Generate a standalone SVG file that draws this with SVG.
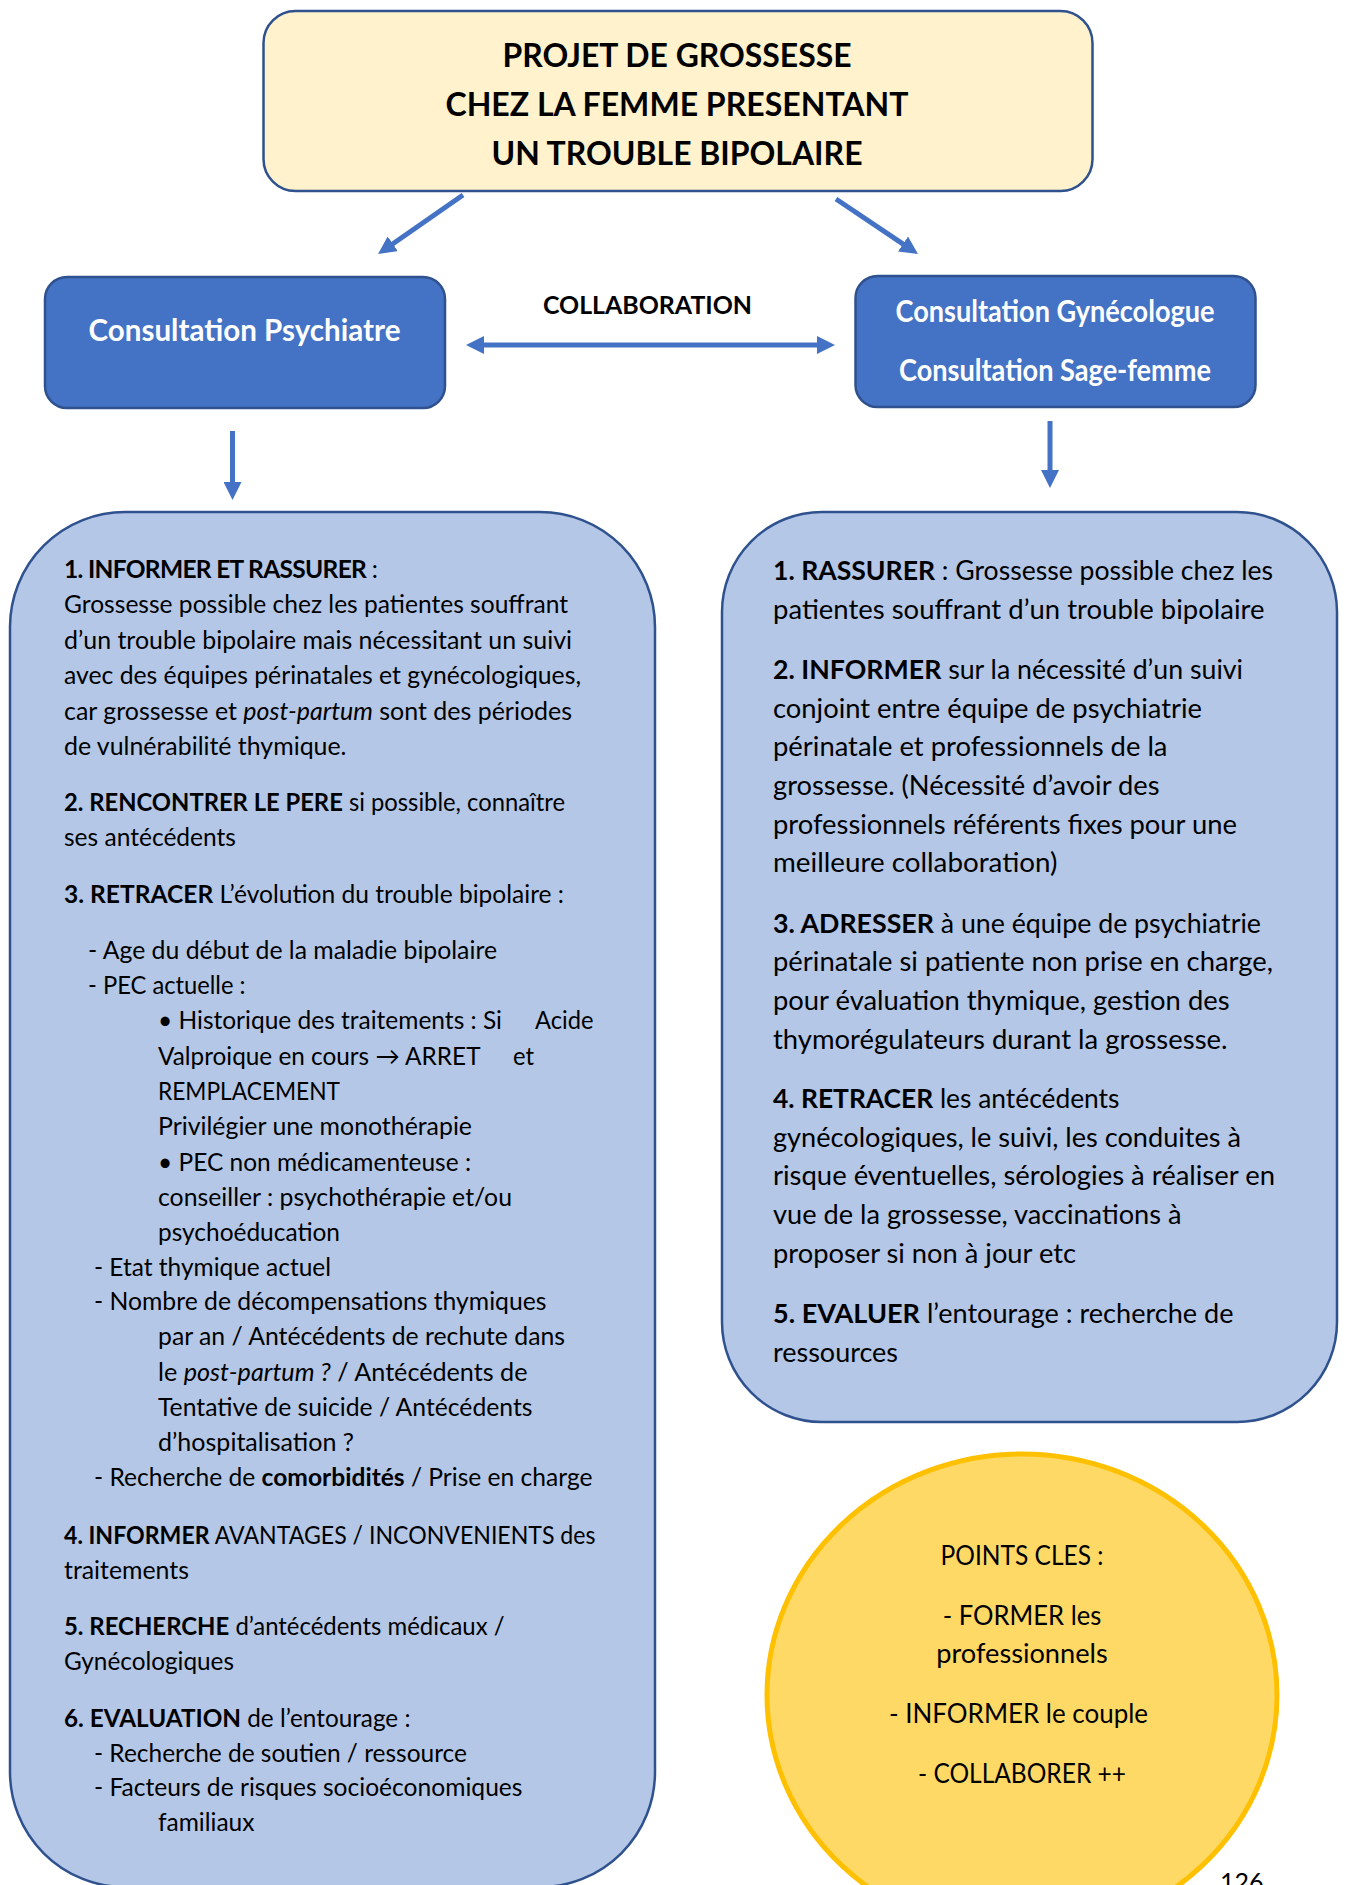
<svg xmlns="http://www.w3.org/2000/svg" width="1347" height="1885" viewBox="0 0 1347 1885">
<defs>
<style>
text{font-family:Lato,"Liberation Sans",sans-serif;fill:#000}
.t{font-size:32px;font-weight:bold;text-anchor:middle}
.hb{font-size:29.5px;font-weight:bold;fill:#fff;text-anchor:middle}
.co{font-size:25px;font-weight:bold;text-anchor:middle}
.l{font-size:24.5px}
.r{font-size:27px}
.c{font-size:26px;text-anchor:middle}
.pg{font-size:25px}
.b{font-weight:bold}
.i{font-style:italic}
.arw{stroke:#4472C4;stroke-width:5;fill:none}
</style>
<marker id="ah" viewBox="0 0 18 18" markerUnits="userSpaceOnUse" markerWidth="18" markerHeight="18" refX="6" refY="9" orient="auto-start-reverse">
<path d="M0,0 L18,9 L0,18 z" fill="#4472C4"/>
</marker>
</defs>
<rect width="1347" height="1885" fill="#fff"/>

<g id="title">
<rect x="263.5" y="11" width="829" height="180" rx="32" fill="#FFF2CC" stroke="#2F528F" stroke-width="2.5"/>
<text class="t" x="677" y="67" textLength="349" lengthAdjust="spacingAndGlyphs">PROJET DE GROSSESSE</text>
<text class="t" x="677" y="116" textLength="463" lengthAdjust="spacingAndGlyphs">CHEZ LA FEMME PRESENTANT</text>
<text class="t" x="677" y="165" textLength="371" lengthAdjust="spacingAndGlyphs">UN TROUBLE BIPOLAIRE</text>
</g>

<g id="psychiatre">
<rect x="45" y="277" width="400" height="131" rx="22" fill="#4472C4" stroke="#2F528F" stroke-width="2.5"/>
<text class="hb" x="244.5" y="341" textLength="312" lengthAdjust="spacingAndGlyphs">Consultation Psychiatre</text>
</g>

<g id="gynecologue">
<rect x="855.5" y="276" width="400" height="131" rx="22" fill="#4472C4" stroke="#2F528F" stroke-width="2.5"/>
<text class="hb" x="1055" y="322" textLength="319" lengthAdjust="spacingAndGlyphs">Consultation Gynécologue</text>
<text class="hb" x="1055" y="381" textLength="312" lengthAdjust="spacingAndGlyphs">Consultation Sage-femme</text>
</g>

<g id="collab-label">
<text class="co" x="647.5" y="314" textLength="209" lengthAdjust="spacingAndGlyphs">COLLABORATION</text>
</g>

<g id="connectors">
<line class="arw" x1="463" y1="195" x2="387.9" y2="247.2" marker-end="url(#ah)"/>
<line class="arw" x1="836" y1="199" x2="908" y2="247.3" marker-end="url(#ah)"/>
<line class="arw" x1="478" y1="345" x2="823" y2="345" marker-start="url(#ah)" marker-end="url(#ah)"/>
<line class="arw" x1="232.5" y1="431" x2="232.5" y2="488" marker-end="url(#ah)"/>
<line class="arw" x1="1050" y1="421" x2="1050" y2="476" marker-end="url(#ah)"/>
</g>

<g id="psy-details">
<rect x="10" y="512" width="645" height="1375" rx="115" fill="#B4C7E7" stroke="#2F528F" stroke-width="2.5"/>
<text class="l" x="64" y="578" style="letter-spacing:-0.68px"><tspan class="b">1. INFORMER ET RASSURER</tspan> :</text>
<text class="l" x="64" y="613" textLength="504" lengthAdjust="spacingAndGlyphs">Grossesse possible chez les patientes souffrant</text>
<text class="l" x="64" y="649" textLength="508" lengthAdjust="spacingAndGlyphs">d’un trouble bipolaire mais nécessitant un suivi</text>
<text class="l" x="64" y="684" textLength="517" lengthAdjust="spacingAndGlyphs">avec des équipes périnatales et gynécologiques,</text>
<text class="l" x="64" y="720" textLength="508" lengthAdjust="spacingAndGlyphs">car grossesse et <tspan class="i">post-partum</tspan> sont des périodes</text>
<text class="l" x="64" y="755" textLength="282.5" lengthAdjust="spacingAndGlyphs">de vulnérabilité thymique.</text>
<text class="l" x="64" y="811" textLength="501" lengthAdjust="spacingAndGlyphs"><tspan class="b">2. RENCONTRER LE PERE</tspan> si possible, connaître</text>
<text class="l" x="64" y="846" textLength="172" lengthAdjust="spacingAndGlyphs">ses antécédents</text>
<text class="l" x="64" y="903" textLength="500" lengthAdjust="spacingAndGlyphs"><tspan class="b">3. RETRACER</tspan> L’évolution du trouble bipolaire :</text>
<text class="l" x="88" y="959" textLength="409" lengthAdjust="spacingAndGlyphs">- Age du début de la maladie bipolaire</text>
<text class="l" x="88" y="994" textLength="157.5" lengthAdjust="spacingAndGlyphs">- PEC actuelle :</text>
<text class="l" x="158" y="1029" textLength="344" lengthAdjust="spacingAndGlyphs">• Historique des traitements : Si</text>
<text class="l" x="535" y="1029" textLength="58.5" lengthAdjust="spacingAndGlyphs">Acide</text>
<text class="l" x="158" y="1065" textLength="322.5" lengthAdjust="spacingAndGlyphs">Valproique en cours → ARRET</text>
<text class="l" x="513" y="1065" textLength="21" lengthAdjust="spacingAndGlyphs">et</text>
<text class="l" x="158" y="1100" textLength="182" lengthAdjust="spacingAndGlyphs">REMPLACEMENT</text>
<text class="l" x="158" y="1135" textLength="314" lengthAdjust="spacingAndGlyphs">Privilégier une monothérapie</text>
<text class="l" x="158" y="1171" textLength="313" lengthAdjust="spacingAndGlyphs">• PEC non médicamenteuse :</text>
<text class="l" x="158" y="1206" textLength="354" lengthAdjust="spacingAndGlyphs">conseiller : psychothérapie et/ou</text>
<text class="l" x="158" y="1241" textLength="182" lengthAdjust="spacingAndGlyphs">psychoéducation</text>
<text class="l" x="94" y="1276" textLength="237" lengthAdjust="spacingAndGlyphs">- Etat thymique actuel</text>
<text class="l" x="94" y="1310" textLength="452.5" lengthAdjust="spacingAndGlyphs">- Nombre de décompensations thymiques</text>
<text class="l" x="158" y="1345" textLength="407" lengthAdjust="spacingAndGlyphs">par an / Antécédents de rechute dans</text>
<text class="l" x="158" y="1381" textLength="369.5" lengthAdjust="spacingAndGlyphs">le <tspan class="i">post-partum ?</tspan> / Antécédents de</text>
<text class="l" x="158" y="1416" textLength="374.5" lengthAdjust="spacingAndGlyphs">Tentative de suicide / Antécédents</text>
<text class="l" x="158" y="1451" textLength="196" lengthAdjust="spacingAndGlyphs">d’hospitalisation ?</text>
<text class="l" x="94" y="1486" textLength="498.5" lengthAdjust="spacingAndGlyphs">- Recherche de <tspan class="b">comorbidités</tspan> / Prise en charge</text>
<text class="l" x="64" y="1544" textLength="531.5" lengthAdjust="spacingAndGlyphs"><tspan class="b">4. INFORMER</tspan> AVANTAGES / INCONVENIENTS des</text>
<text class="l" x="64" y="1579" textLength="125" lengthAdjust="spacingAndGlyphs">traitements</text>
<text class="l" x="64" y="1635" textLength="440.5" lengthAdjust="spacingAndGlyphs"><tspan class="b">5. RECHERCHE</tspan> d’antécédents médicaux /</text>
<text class="l" x="64" y="1670" textLength="170" lengthAdjust="spacingAndGlyphs">Gynécologiques</text>
<text class="l" x="64" y="1727" textLength="346.5" lengthAdjust="spacingAndGlyphs"><tspan class="b">6. EVALUATION</tspan> de l’entourage :</text>
<text class="l" x="94" y="1762" textLength="373" lengthAdjust="spacingAndGlyphs">- Recherche de soutien / ressource</text>
<text class="l" x="94" y="1796" textLength="428.5" lengthAdjust="spacingAndGlyphs">- Facteurs de risques socioéconomiques</text>
<text class="l" x="158" y="1831" textLength="96.5" lengthAdjust="spacingAndGlyphs">familiaux</text>
</g>

<g id="gyn-details">
<rect x="722" y="512" width="615" height="910" rx="100" fill="#B4C7E7" stroke="#2F528F" stroke-width="2.5"/>
<text class="r" x="773" y="580" textLength="500" lengthAdjust="spacingAndGlyphs"><tspan class="b">1. RASSURER</tspan> : Grossesse possible chez les</text>
<text class="r" x="773" y="619" textLength="491.5" lengthAdjust="spacingAndGlyphs">patientes souffrant d’un trouble bipolaire</text>
<text class="r" x="773" y="679" textLength="470" lengthAdjust="spacingAndGlyphs"><tspan class="b">2. INFORMER</tspan> sur la nécessité d’un suivi</text>
<text class="r" x="773" y="717.5" textLength="429" lengthAdjust="spacingAndGlyphs">conjoint entre équipe de psychiatrie</text>
<text class="r" x="773" y="756" textLength="394.5" lengthAdjust="spacingAndGlyphs">périnatale et professionnels de la</text>
<text class="r" x="773" y="795" textLength="386.5" lengthAdjust="spacingAndGlyphs">grossesse. (Nécessité d’avoir des</text>
<text class="r" x="773" y="833.5" textLength="464" lengthAdjust="spacingAndGlyphs">professionnels référents fixes pour une</text>
<text class="r" x="773" y="872" textLength="284.5" lengthAdjust="spacingAndGlyphs">meilleure collaboration)</text>
<text class="r" x="773" y="932.5" textLength="488" lengthAdjust="spacingAndGlyphs"><tspan class="b">3. ADRESSER</tspan> à une équipe de psychiatrie</text>
<text class="r" x="773" y="971" textLength="500" lengthAdjust="spacingAndGlyphs">périnatale si patiente non prise en charge,</text>
<text class="r" x="773" y="1010" textLength="456.5" lengthAdjust="spacingAndGlyphs">pour évaluation thymique, gestion des</text>
<text class="r" x="773" y="1048.5" textLength="454.5" lengthAdjust="spacingAndGlyphs">thymorégulateurs durant la grossesse.</text>
<text class="r" x="773" y="1108" textLength="346.5" lengthAdjust="spacingAndGlyphs"><tspan class="b">4. RETRACER</tspan> les antécédents</text>
<text class="r" x="773" y="1146.5" textLength="468" lengthAdjust="spacingAndGlyphs">gynécologiques, le suivi, les conduites à</text>
<text class="r" x="773" y="1185" textLength="502" lengthAdjust="spacingAndGlyphs">risque éventuelles, sérologies à réaliser en</text>
<text class="r" x="773" y="1224" textLength="408.5" lengthAdjust="spacingAndGlyphs">vue de la grossesse, vaccinations à</text>
<text class="r" x="773" y="1262.5" textLength="303" lengthAdjust="spacingAndGlyphs">proposer si non à jour etc</text>
<text class="r" x="773" y="1323" textLength="460.5" lengthAdjust="spacingAndGlyphs"><tspan class="b">5. EVALUER</tspan> l’entourage : recherche de</text>
<text class="r" x="773" y="1361.5" textLength="125" lengthAdjust="spacingAndGlyphs">ressources</text>
</g>

<g id="points-cles">
<ellipse cx="1022" cy="1695" rx="255" ry="241" fill="#FFD966" stroke="#FFC000" stroke-width="5"/>
<text class="c" x="1022" y="1564.5" textLength="163" lengthAdjust="spacingAndGlyphs">POINTS CLES :</text>
<text class="c" x="1022" y="1624.5" textLength="158.5" lengthAdjust="spacingAndGlyphs">- FORMER les</text>
<text class="c" x="1022" y="1662.5" textLength="171.5" lengthAdjust="spacingAndGlyphs">professionnels</text>
<text class="c" x="1018.5" y="1722.5" textLength="259" lengthAdjust="spacingAndGlyphs">- INFORMER le couple</text>
<text class="c" x="1022" y="1782.5" textLength="208" lengthAdjust="spacingAndGlyphs">- COLLABORER ++</text>
</g>

<text class="pg" x="1220" y="1891">126</text>
</svg>
